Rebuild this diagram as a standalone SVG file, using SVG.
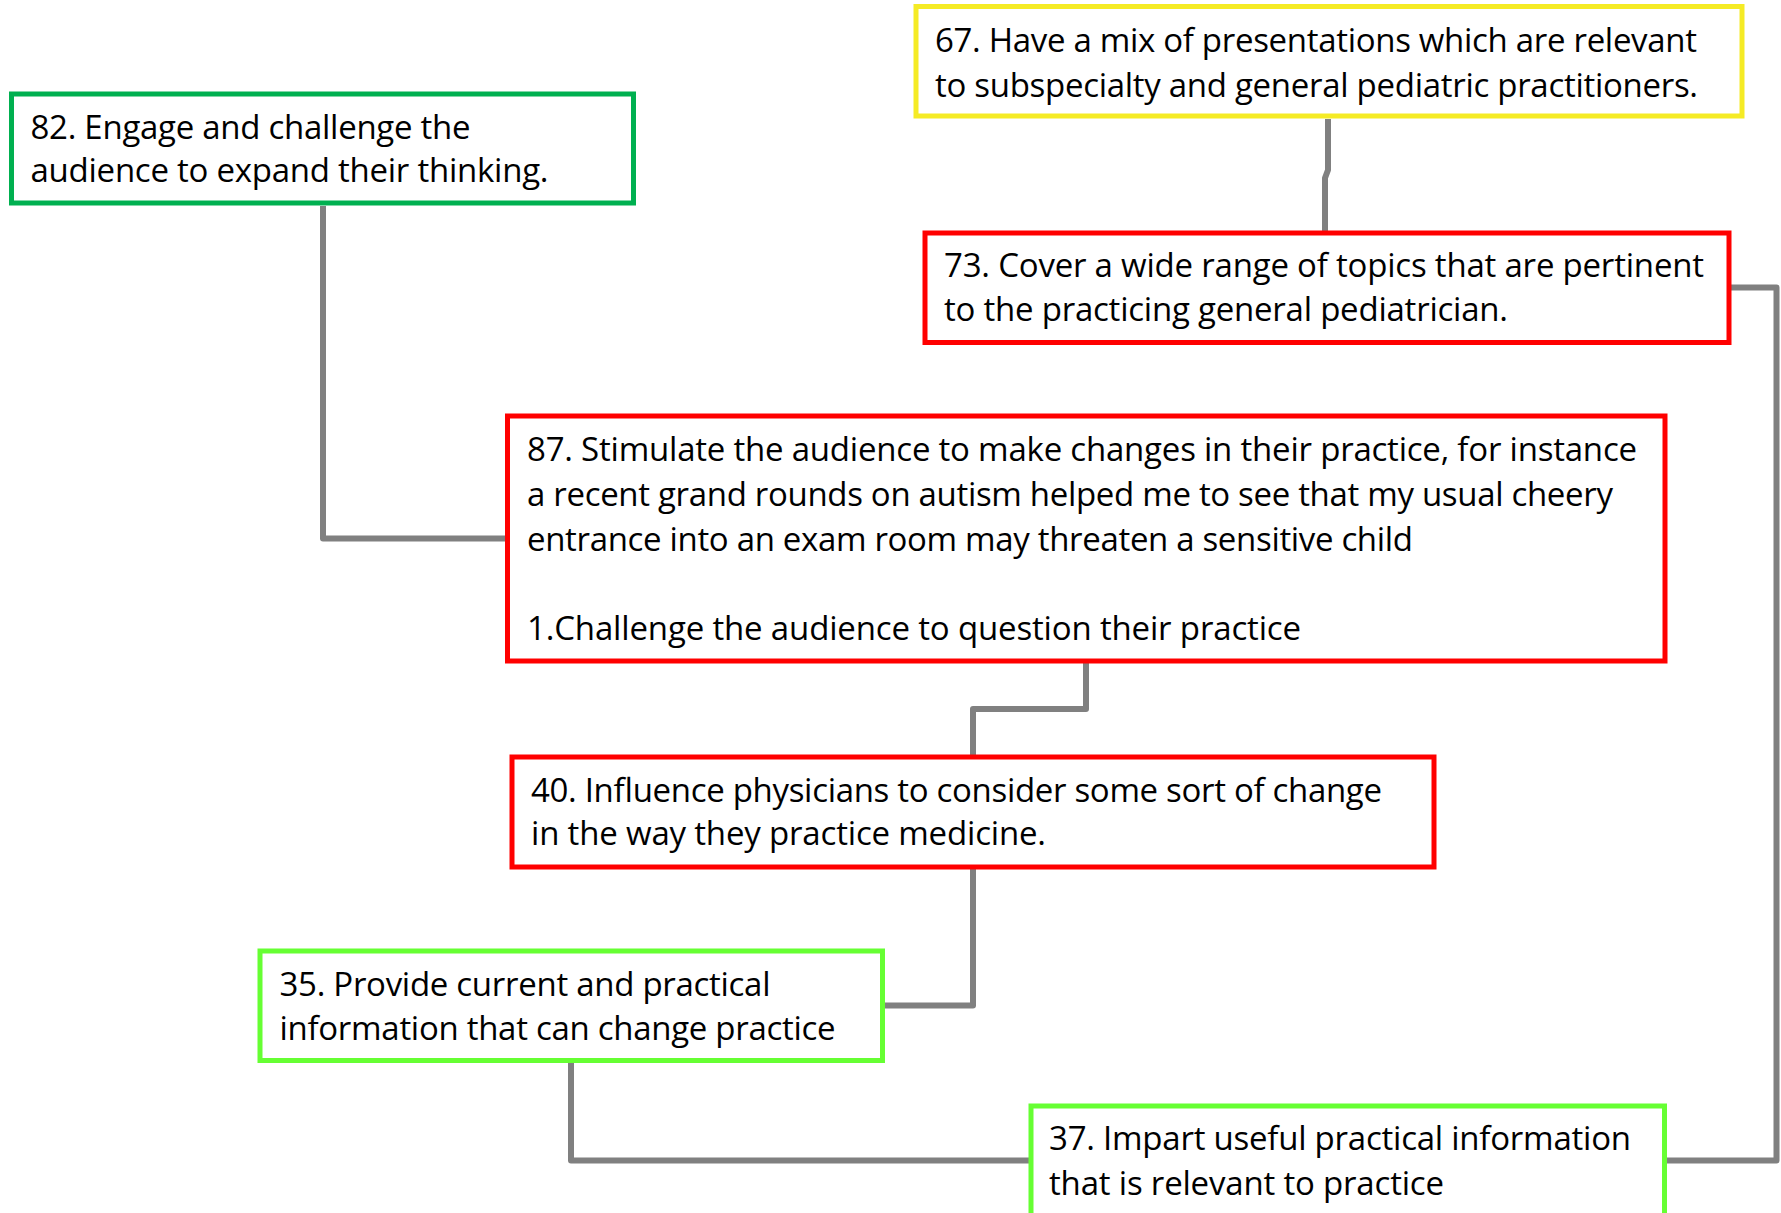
<svg xmlns="http://www.w3.org/2000/svg" width="1781" height="1213" viewBox="0 0 1781 1213">
<style>
.box{fill:#ffffff;stroke-width:5}
.red{stroke:#FF0000}
.dg{stroke:#00B050}
.lg{stroke:#66FF33}
.yl{stroke:#F5EB25}
.t{font-family:"Open Sans","Noto Sans","DejaVu Sans",sans-serif;font-size:33px;fill:#000000}
.c{fill:none;stroke:#808080;stroke-width:6;stroke-linejoin:round}
</style>
<rect x="0" y="0" width="1781" height="1213" fill="#ffffff"/>
<g id="connectors">
<path class="c" d="M323,206 V538.5 H505"/>
<path class="c" d="M1328,119 V170 L1325,178 V231"/>
<path class="c" d="M1086,663 V709 H973 V755"/>
<path class="c" d="M973,869 V1005.5 H885"/>
<path class="c" d="M571,1063 V1160.5 H1029"/>
<path class="c" d="M1731,287.5 H1776.5 V1160.5 H1667"/>
</g>
<g id="n82">
<rect class="box dg" x="11.5" y="94" width="622" height="109"/>
<text class="t" x="30.5" y="138.5" textLength="440">82. Engage and challenge the</text>
<text class="t" x="30.5" y="182" textLength="518">audience to expand their thinking.</text>
</g>
<g id="n67">
<rect class="box yl" x="916" y="6.5" width="826" height="109.5"/>
<text class="t" x="935" y="52" textLength="762">67. Have a mix of presentations which are relevant</text>
<text class="t" x="935" y="96.5" textLength="763">to subspecialty and general pediatric practitioners.</text>
</g>
<g id="n73">
<rect class="box red" x="925" y="233" width="804" height="109.5"/>
<text class="t" x="944" y="277" textLength="760">73. Cover a wide range of topics that are pertinent</text>
<text class="t" x="944" y="320.5" textLength="564">to the practicing general pediatrician.</text>
</g>
<g id="n87">
<rect class="box red" x="507.5" y="416" width="1157.5" height="245"/>
<text class="t" x="527" y="460.5" textLength="1110">87. Stimulate the audience to make changes in their practice, for instance</text>
<text class="t" x="527" y="505.5" textLength="1086">a recent grand rounds on autism helped me to see that my usual cheery</text>
<text class="t" x="527" y="550.5" textLength="886">entrance into an exam room may threaten a sensitive child</text>
<text class="t" x="527" y="640" textLength="774">1.Challenge the audience to question their practice</text>
</g>
<g id="n40">
<rect class="box red" x="512" y="757" width="922" height="110"/>
<text class="t" x="531" y="801.5" textLength="851">40. Influence physicians to consider some sort of change</text>
<text class="t" x="531" y="845" textLength="515">in the way they practice medicine.</text>
</g>
<g id="n35">
<rect class="box lg" x="260" y="951" width="622.5" height="109.5"/>
<text class="t" x="279.5" y="995.5" textLength="491">35. Provide current and practical</text>
<text class="t" x="279.5" y="1039.5" textLength="556">information that can change practice</text>
</g>
<g id="n37">
<rect class="box lg" x="1031" y="1106" width="633.5" height="150"/>
<text class="t" x="1049" y="1150" textLength="582">37. Impart useful practical information</text>
<text class="t" x="1049" y="1195" textLength="395">that is relevant to practice</text>
</g>
</svg>
